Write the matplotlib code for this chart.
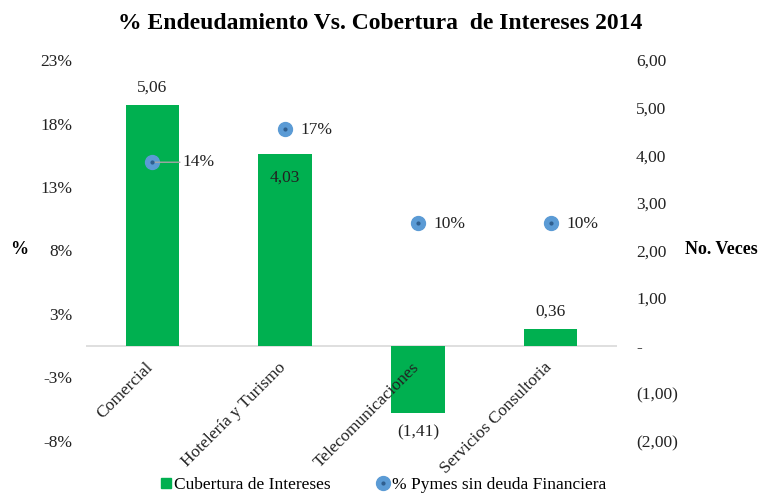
import matplotlib.pyplot as plt
import numpy as np
from matplotlib.lines import Line2D

plt.rcParams['font.family'] = ['Liberation Serif', 'DejaVu Serif']

# Data
categories = ['Comercial', 'Hotelería y Turismo', 'Telecomunicaciones', 'Servicios Consultoria']
cobertura = np.array([5.06, 4.03, -1.41, 0.36])          # No. veces (right axis)
pymes_pct = np.array([14.45, 17.1, 9.7, 9.7])            # % (left axis)
pymes_labels = ['14%', '17%', '10%', '10%']

green = '#00B050'
blue = '#5B9BD5'
dot = '#2F5F8F'

fig = plt.figure(figsize=(7.65, 4.96), dpi=100)
ax = fig.add_axes([0.112, 0.111, 0.695, 0.768])
ax2 = ax.twinx()   # % axis, drawn on top of the bars
x = np.arange(len(categories))


def veces_fmt(v):
    if abs(v) < 1e-9:
        return '-'
    s = f'{abs(v):.2f}'.replace('.', ',')
    return f'({s})' if v < 0 else s


def pct_fmt(v):
    r = int(np.floor(abs(v) + 0.5))
    return f'-{r}%' if v < 0 else f'{r}%'


# Bars on the "No. Veces" axis (shown on the right)
ax.bar(x, cobertura, width=0.4, color=green, zorder=2)
ax.set_xlim(-0.5, len(categories) - 0.5)
ax.set_ylim(-2, 6)
ax.set_xticks([])
ax.axhline(0, color='#D9D9D9', lw=1.2, zorder=1)
for s in ax.spines.values():
    s.set_visible(False)

# bar value labels
for i, v in enumerate(cobertura):
    if i == 1:
        off = -17
    elif v >= 0:
        off = 12
    else:
        off = -14
    ax.annotate(veces_fmt(v), (i, v), xytext=(0, off), textcoords='offset points',
                ha='center', va='center', fontsize=12.5, color='#222222')

# rotated category labels
for i, c in enumerate(categories):
    ax.annotate(c, (i, 0), xytext=(3, -10), textcoords='offset points',
                ha='right', va='top', rotation=45, fontsize=12.5, color='#222222')

# Points on the % axis
ax2.set_ylim(-7.5, 22.5)
for s in ax2.spines.values():
    s.set_visible(False)
ax2.plot(x, pymes_pct, 'o', ms=10, color=blue, zorder=3)
ax2.plot(x, pymes_pct, 'o', ms=2, color=dot, zorder=4)

for i, (v, t) in enumerate(zip(pymes_pct, pymes_labels)):
    if i == 0:
        ax2.annotate(t, (i, v), xytext=(22, 0), textcoords='offset points',
                     ha='left', va='center', fontsize=12.5, color='#222222',
                     arrowprops=dict(arrowstyle='-', color='#A6A6A6', lw=1,
                                     shrinkA=0, shrinkB=2))
    else:
        ax2.annotate(t, (i, v), xytext=(11, -1), textcoords='offset points',
                     ha='left', va='center', fontsize=12.5, color='#222222')

# tick placement: % on the left, No. Veces on the right
ax.yaxis.set_ticks_position('right')
ax.set_yticks(np.arange(-2, 7, 1))
ax.set_yticklabels([veces_fmt(v) for v in np.arange(-2, 7, 1)], ha='left')
ax.tick_params(axis='y', which='both', left=False, labelleft=False,
               right=False, labelright=True, pad=10, labelsize=12.5, colors='#222222')

ax2.yaxis.set_ticks_position('left')
pct_ticks = np.arange(-7.5, 23, 5)
ax2.set_yticks(pct_ticks)
ax2.set_yticklabels([pct_fmt(v) for v in pct_ticks])
ax2.tick_params(axis='y', which='both', right=False, labelright=False,
                left=False, labelleft=True, pad=6, labelsize=12.5, colors='#222222')

# Titles and axis names
fig.text(0.497, 0.953, '% Endeudamiento Vs. Cobertura  de Intereses 2014',
         ha='center', va='center', fontsize=17, fontweight='bold')
fig.text(0.013, 0.496, '%', ha='left', va='center', fontsize=13, fontweight='bold')
fig.text(0.896, 0.496, 'No. Veces', ha='left', va='center', fontsize=13, fontweight='bold')

# Legend
handles = [
    Line2D([], [], marker='s', ls='', color=green, ms=7),
    (Line2D([], [], marker='o', ls='', color=blue, ms=10),
     Line2D([], [], marker='o', ls='', color=dot, ms=2)),
]
fig.legend(handles, ['Cubertura de Intereses', '% Pymes sin deuda Financiera'],
           loc='center', bbox_to_anchor=(0.5, 0.022), ncol=2, frameon=False,
           fontsize=12.5, handlelength=0.8, handletextpad=0.1, columnspacing=2.6,
           borderpad=0.0)

fig.savefig('out.png', dpi=100)
